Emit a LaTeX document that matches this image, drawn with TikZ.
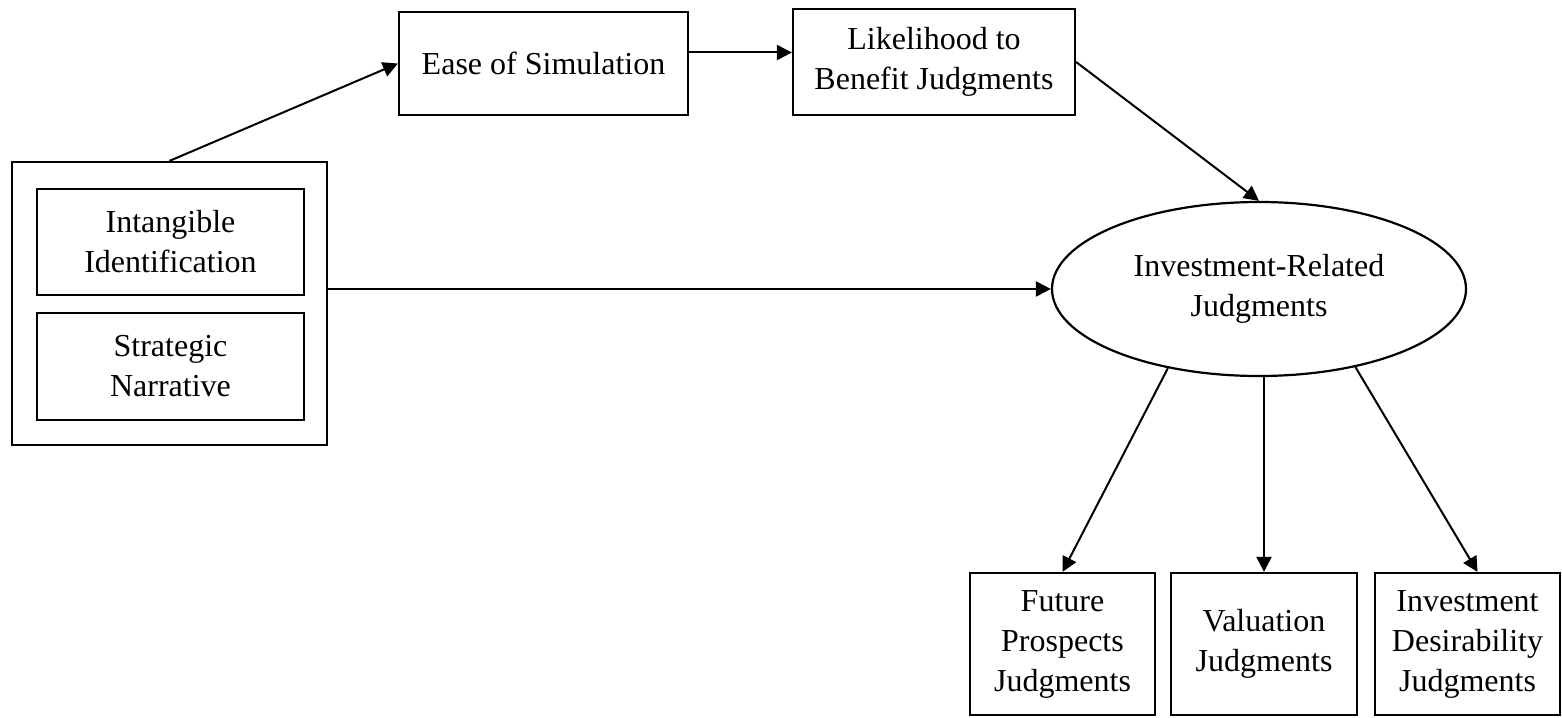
\documentclass[tikz,border=0pt]{standalone}
\usepackage{fontspec}
\setmainfont{Liberation Serif}
\usetikzlibrary{arrows.meta,shapes.geometric}

\begin{document}
\begin{tikzpicture}[x=0.5pt, y=-0.5pt,
	box/.style={rectangle, draw, line width=1.1pt, inner sep=0pt, align=center},
	arr/.style={-{Triangle[length=7.5pt,width=7.5pt]}, line width=1pt},
	font=\fontsize{16}{20}\selectfont]
	\useasboundingbox (0,0) rectangle (1562,717);
	\node (outer) at (169.5,303.5) [box, minimum width=157.5pt, minimum height=141.5pt] {};
		\node (ident) at (170.5,242) [box, minimum width=133.5pt, minimum height=53pt] {Intangible\\Identification};
		\node (narr) at (170.5,366.5) [box, minimum width=133.5pt, minimum height=53.5pt] {Strategic\\Narrative};
	\node (ease) at (543.5,63.5) [box, minimum width=144.5pt, minimum height=51.5pt] {Ease of Simulation};
	\node (likely) at (934,62) [box, minimum width=141pt, minimum height=53pt] {Likelihood to\\Benefit Judgments};
	\node (ell) at (1259,289) [ellipse, draw, line width=1.1pt, inner sep=0pt, minimum width=207pt, minimum height=87pt, align=center] {Investment-Related\\Judgments};
		\node (future) at (1062.5,644) [box, minimum width=92.5pt, minimum height=71pt] {Future\\Prospects\\Judgments};
		\node (val) at (1264,644) [box, minimum width=93pt, minimum height=71pt] {Valuation\\Judgments};
		\node (inv) at (1467.5,644) [box, minimum width=92.5pt, minimum height=71pt] {Investment\\Desirability\\Judgments};
	\draw[arr] (outer.north) to (ease.west);
	\draw[arr] ([yshift=5.5pt]ease.east) to ([yshift=5.5pt]ease.east -| likely.west);
	\draw[arr] (likely.east) to (ell.north);
	\draw[arr] (outer.east |- ell.west) to (ell.west);
	\draw[arr] (ell.221) to (future.north);
	\draw[arr] (val.north |- ell.south) to (val.north);
	\draw[arr] (ell.-39) to ([xshift=5pt]inv.north);
\end{tikzpicture}
\end{document}
